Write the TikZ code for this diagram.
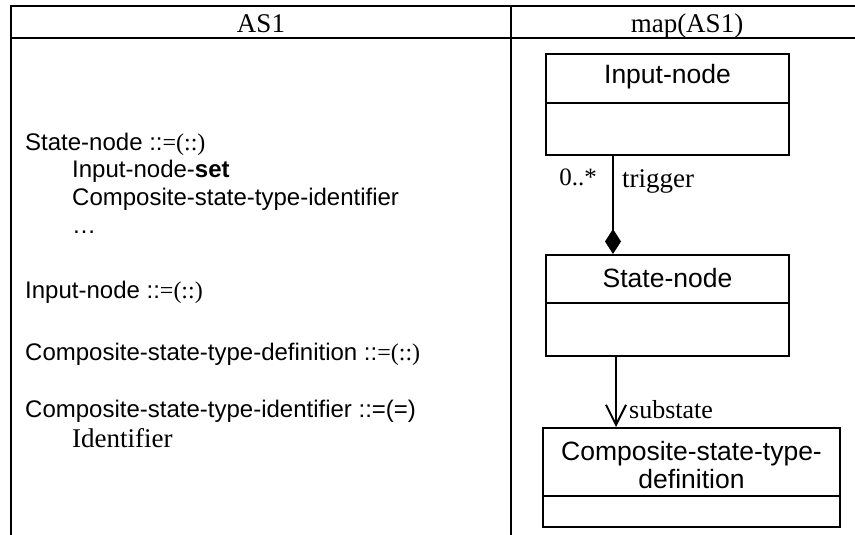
\documentclass[tikz,border=0pt]{standalone}
\usepackage{fontspec}
\setmainfont{Liberation Serif}
\setsansfont{Liberation Sans}
\usetikzlibrary{arrows.meta}
\begin{document}
\begin{tikzpicture}[x=1pt,y=-1pt,
  rule/.style={line width=1.8pt},
  classbox/.style={draw, line width=2pt, inner sep=0pt},
  compart/.style={line width=2pt},
  head/.style={font=\fontsize{27}{30}\selectfont, inner sep=0pt, anchor=base},
  cname/.style={font=\sffamily\fontsize{26.5}{28}\selectfont, inner sep=0pt, anchor=base},
  grammar/.style={font=\sffamily\fontsize{24}{28}\selectfont, inner sep=0pt, anchor=base west},
  rolelabel/.style={font=\fontsize{27}{30}\selectfont, inner sep=0pt},
  link/.style={line width=2pt},
]
\useasboundingbox (0,0) rectangle (855,535);
\fill[white] (0,0) rectangle (855,535);

% table frame (runs on past the right and bottom edges)
\draw[rule] (11,535) -- (11,6) -- (855,6);
\draw[rule] (11,38) -- (855,38);
\draw[rule] (511,6) -- (511,535);

% column headings
\node[head] (hleft)  at (261,33) {AS1};
\node[head] (hright) at (687,33) {map(AS1)};

% abstract syntax rules
\node[grammar] (g1) at (25,150) {State-node ::\rmfamily=(::)};
\node[grammar] (g2) at (72,177) {Input-node-\textbf{set}};
\node[grammar] (g3) at (72,205) {Composite-state-type-identifier};
\node[grammar] (g4) at (72,233) {…};
\node[grammar] (g5) at (25,298) {Input-node ::\rmfamily=(::)};
\node[grammar] (g6) at (25,360) {Composite-state-type-definition ::\rmfamily=(::)};
\node[grammar] (g7) at (25,417) {Composite-state-type-identifier ::=(=)};
\node[grammar, font=\fontsize{27}{30}\selectfont] (g8) at (72,447) {Identifier};

% class boxes
\node[classbox, minimum width=243pt, minimum height=101pt] (inb) at (667.5,104.5) {};
\draw[compart] (inb.west |- 0,103) -- (inb.east |- 0,103);
\node[cname] (inbl) at (667.5,84) {Input-node};

\node[classbox, minimum width=243pt, minimum height=101pt] (stn) at (667.5,305.5) {};
\draw[compart] (stn.west |- 0,303) -- (stn.east |- 0,303);
\node[cname] (stnl) at (667.5,287) {State-node};

\node[classbox, minimum width=297pt, minimum height=99pt] (cst) at (691.5,477.5) {};
\draw[compart] (cst.west |- 0,496) -- (cst.east |- 0,496);
\node[cname] (cstl1) at (691.5,460) {Composite-state-type-};
\node[cname] (cstl2) at (691.5,488) {definition};

% composition: trigger
\draw[link, -{Diamond[length=25pt,width=16pt]}] (inb.south -| 613,0) -- (stn.north -| 613,0);
\node[rolelabel, font=\fontsize{25}{28}\selectfont, anchor=base east] (mult) at (597,185) {0..*};
\node[rolelabel, anchor=base west] (trig) at (622,187) {trigger};

% association: substate
\draw[link, -{Straight Barb[length=20pt,width=20pt,line width=2pt]}] (stn.south -| 616,0) -- (cst.north -| 616,0);
\node[rolelabel, font=\fontsize{26}{28}\selectfont, anchor=base west] (sub) at (629,418) {substate};
\end{tikzpicture}
\end{document}
